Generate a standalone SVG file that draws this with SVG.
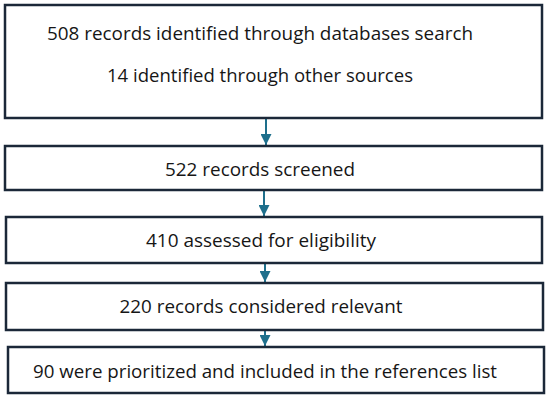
<svg xmlns="http://www.w3.org/2000/svg" width="550" height="400" viewBox="0 0 550 400">
<style>
.box{fill:#fff;stroke:#1b2838;stroke-width:2.5}
.t{font-family:"Open Sans","Liberation Sans",Arial,sans-serif;font-size:19px;fill:#161616;text-anchor:middle}
.c{stroke:#1e6f8c;stroke-width:2;fill:none}
</style>
<defs>
<marker id="ah" viewBox="0 0 10 10" refX="10" refY="5" markerWidth="6" markerHeight="5.5" markerUnits="strokeWidth" orient="auto">
<path d="M0,0 L10,5 L0,10 z" fill="#1e6f8c"/>
</marker>
</defs>
<rect width="550" height="400" fill="#fff"/>
<g id="connectors">
<line class="c" x1="266" y1="119" x2="266" y2="145" marker-end="url(#ah)"/>
<line class="c" x1="264" y1="191" x2="264" y2="216" marker-end="url(#ah)"/>
<line class="c" x1="265" y1="264" x2="265" y2="282" marker-end="url(#ah)"/>
<line class="c" x1="265" y1="331" x2="265" y2="346" marker-end="url(#ah)"/>
</g>
<g id="n1">
<rect class="box" x="5" y="5" width="537" height="113"/>
<text class="t" x="260" y="40" textLength="426" lengthAdjust="spacingAndGlyphs">508 records identified through databases search</text>
<text class="t" x="260" y="82" textLength="306" lengthAdjust="spacingAndGlyphs">14 identified through other sources</text>
</g>
<g id="n2">
<rect class="box" x="5" y="146" width="537" height="44"/>
<text class="t" x="260" y="176" textLength="190" lengthAdjust="spacingAndGlyphs">522 records screened</text>
</g>
<g id="n3">
<rect class="box" x="6" y="217" width="536" height="46"/>
<text class="t" x="261" y="247" textLength="230" lengthAdjust="spacingAndGlyphs">410 assessed for eligibility</text>
</g>
<g id="n4">
<rect class="box" x="6" y="283" width="537" height="47"/>
<text class="t" x="261" y="313" textLength="283" lengthAdjust="spacingAndGlyphs">220 records considered relevant</text>
</g>
<g id="n5">
<rect class="box" x="8" y="347" width="536" height="46"/>
<text class="t" x="265" y="378" textLength="464" lengthAdjust="spacingAndGlyphs">90 were prioritized and included in the references list</text>
</g>
</svg>
